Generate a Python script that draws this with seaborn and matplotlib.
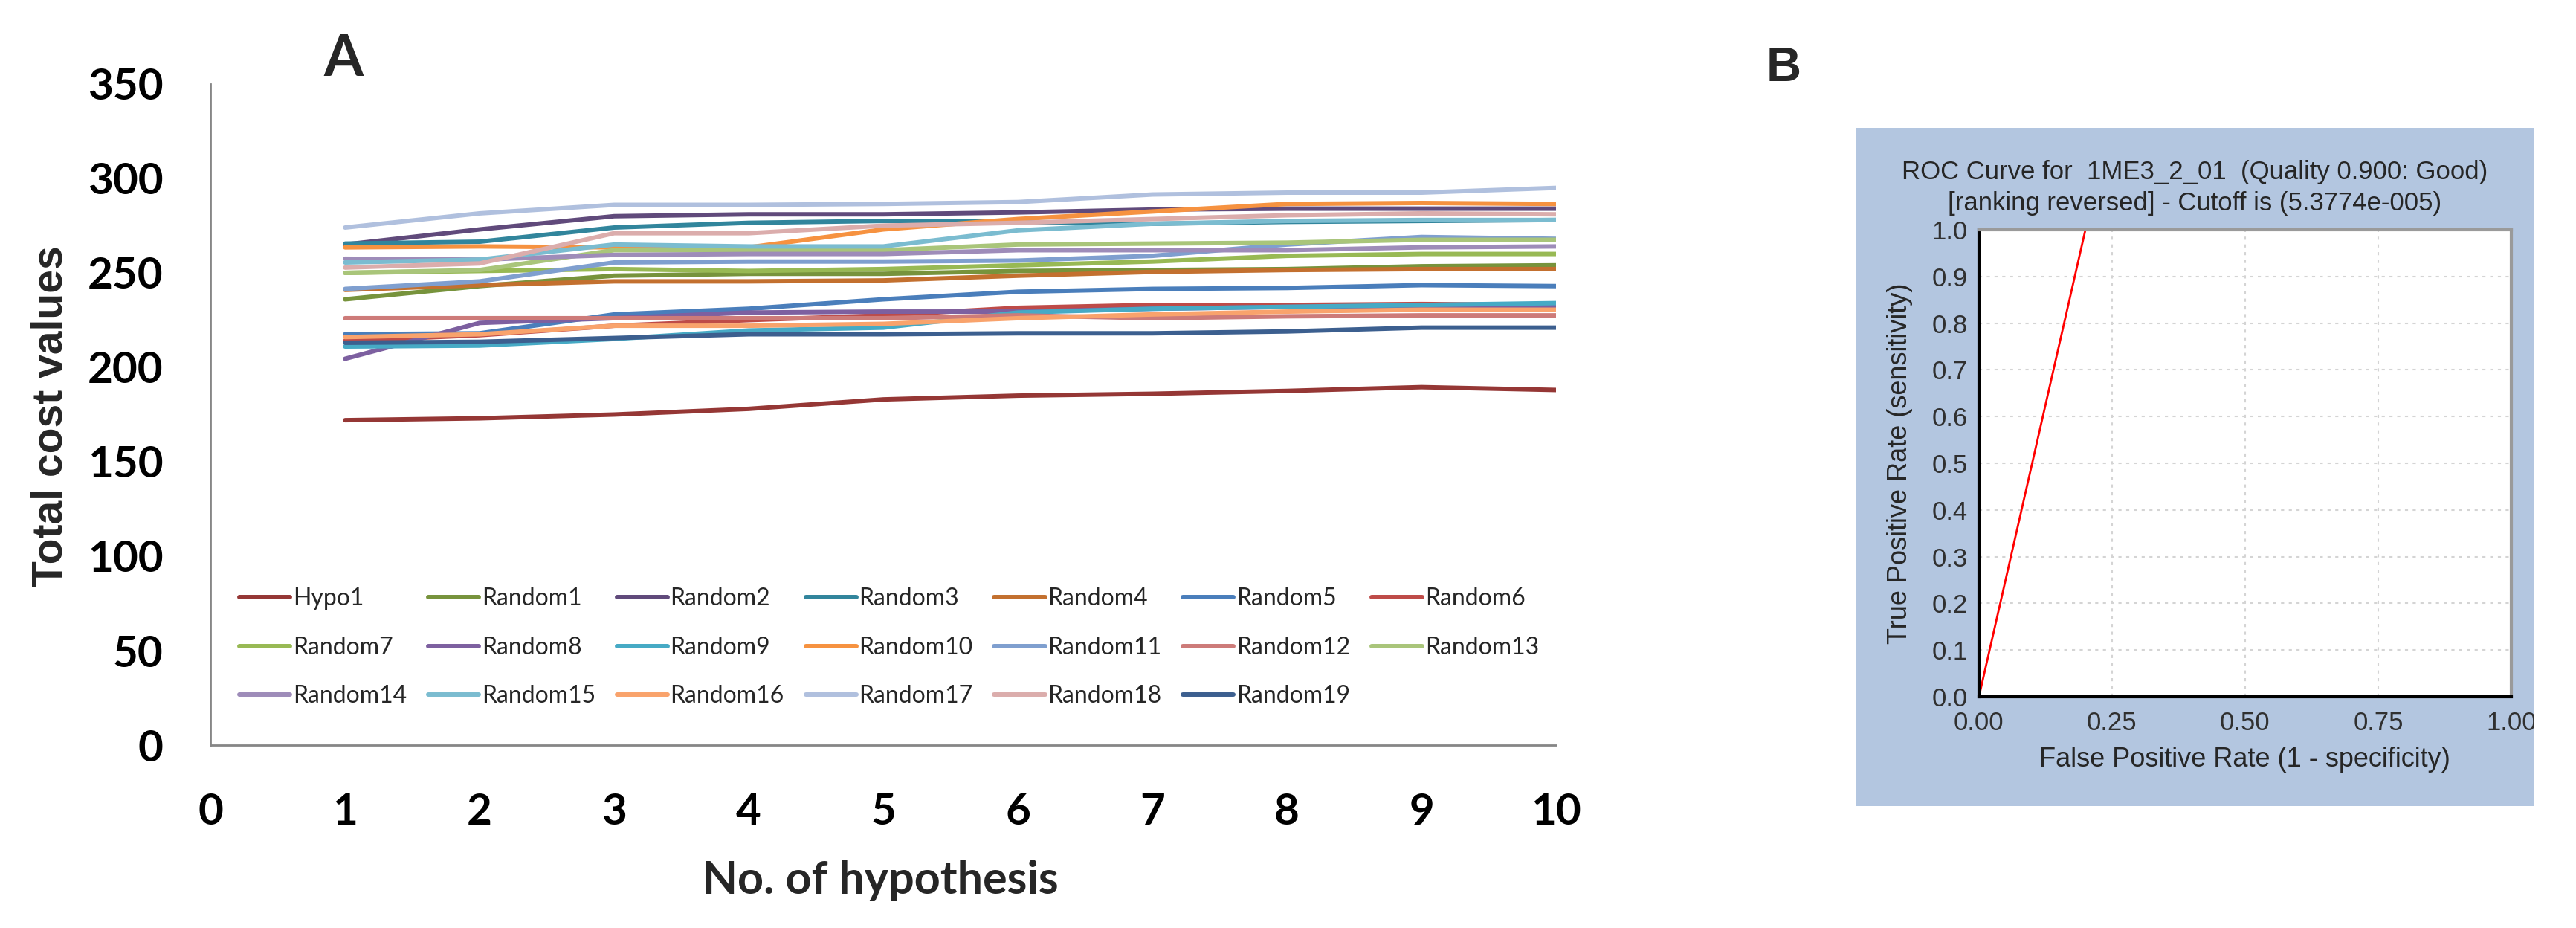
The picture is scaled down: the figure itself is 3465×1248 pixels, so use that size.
import numpy as np
import pandas as pd
import matplotlib
matplotlib.use("Agg")
import matplotlib.pyplot as plt
import seaborn as sns

# panel A data: total cost of the 10 hypotheses for each run
hypotheses = [1, 2, 3, 4, 5, 6, 7, 8, 9, 10]
series_names = ["Hypo1"] + ["Random%d" % i for i in range(1, 20)]

hypo1 = [172, 173, 175, 178, 183, 185, 186, 187.5, 189.5, 188]
random1 = [236, 243, 248.5, 249.5, 249.5, 251, 251.5, 252, 253.5, 254]
random2 = [265, 273, 280, 281, 281, 282, 283.5, 284, 284, 284]
random3 = [265.5, 266.5, 274, 276.5, 277.5, 277, 276, 277, 277.5, 278]
random4 = [241, 243.5, 245.5, 245.5, 246, 248.5, 250.5, 251.5, 252, 252]
random5 = [217.5, 218, 228, 231, 236, 240, 241.5, 242, 243.5, 243]
random6 = [214, 217, 222, 225, 227.5, 231.5, 233, 233, 233.5, 233]
random7 = [250, 251, 252, 251, 252, 254, 256, 259, 260, 260]
random8 = [204.5, 223.5, 226, 229, 229.5, 229.5, 231, 232, 232, 232]
random9 = [211, 211.5, 215, 219.5, 221, 229, 231, 232, 233, 234]
random10 = [263.5, 264, 263.5, 263.5, 273, 278.5, 282.5, 286.5, 287, 286.5]
random11 = [241.5, 245.5, 255.5, 256, 256, 256.5, 259, 265, 269, 268]
random12 = [226, 226, 226, 226, 226, 227.5, 226, 227, 227.5, 227.5]
random13 = [250, 251.5, 262, 262, 262, 265, 265.5, 266, 267.5, 267.5]
random14 = [257.5, 257, 259.5, 260, 260, 262, 262, 262, 263.5, 264]
random15 = [255.5, 257, 265, 264, 264, 272.5, 276, 277.5, 278, 278]
random16 = [216, 217.5, 222, 222, 223, 226, 228, 229.5, 230.5, 230.5]
random17 = [274, 281.5, 286, 286, 286.5, 287.5, 291.5, 292.5, 292.5, 295]
random18 = [252.8, 255, 271, 271, 275, 276.5, 278.5, 280.5, 281.5, 281]
random19 = [213, 213.5, 215.5, 217.5, 217.5, 218, 218, 219, 221, 221]

series_values = [hypo1, random1, random2, random3, random4, random5, random6,
                 random7, random8, random9, random10, random11, random12,
                 random13, random14, random15, random16, random17, random18,
                 random19]

line_colors = ["#953735", "#77933C", "#604A7B", "#31859C", "#C3702F",
               "#4A7EBB", "#BE4B48", "#98B954", "#7D60A0", "#46AAC5",
               "#F69240", "#7F9FCF", "#CD7B79", "#A9C57A", "#9E8CB9",
               "#7BBCD0", "#F9A36C", "#B0C0DE", "#DBADAC", "#3C5F8F"]

# panel B data: ROC curve
fpr = [0.0, 0.2, 1.0]
tpr = [0.0, 1.0, 1.0]

rows = []
for name, vals in zip(series_names, series_values):
    for h, v in zip(hypotheses, vals):
        rows.append((name, h, v))
df = pd.DataFrame(rows, columns=["series", "hypothesis", "cost"])

sns.set_style("white")
plt.rcParams["font.family"] = ["Lato", "DejaVu Sans"]

fig = plt.figure(figsize=(34.66, 12.48), dpi=100)

# ---- panel A ----
ax = fig.add_axes([0.0817, 0.1971, 0.5222, 0.7124])
sns.lineplot(data=df, x="hypothesis", y="cost", hue="series",
             hue_order=series_names,
             palette=dict(zip(series_names, line_colors)),
             linewidth=4.3, estimator=None, ax=ax)

ax.set_xlim(0, 10)
ax.set_ylim(0, 350)
ax.set_xticks(range(0, 11))
ax.set_yticks(range(0, 351, 50))
for side in ["top", "right"]:
    ax.spines[side].set_visible(False)
for side in ["left", "bottom"]:
    ax.spines[side].set_color("#868686")
    ax.spines[side].set_linewidth(2)
ax.tick_params(direction="out", length=16, width=2, color="#868686",
               labelsize=42, pad=30, labelcolor="black")
for lab in ax.get_xticklabels() + ax.get_yticklabels():
    lab.set_fontweight("bold")

ax.set_xlabel("No. of hypothesis", fontsize=44, fontweight="bold")
ax.xaxis.set_label_coords(0.498, -0.225)
ax.xaxis.label.set_va("baseline")
ax.set_ylabel("Total cost values", fontsize=41, fontweight="bold",
              family=["Liberation Sans", "DejaVu Sans"])
ax.yaxis.set_label_coords(-0.1188, 0.498)
ax.yaxis.label.set_va("center")

# legend in row-major order like the original (7 columns, 3 rows)
handles, labels = ax.get_legend_handles_labels()
n = len(handles)
order = [r * 7 + c for c in range(7) for r in range(3) if r * 7 + c < n]
leg = ax.legend([handles[i] for i in order], [labels[i] for i in order],
                ncol=7, loc="upper left", bbox_to_anchor=(0.0215, 0.238),
                frameon=False, fontsize=23, handlelength=2.13,
                handletextpad=0.12, columnspacing=0.9, labelspacing=1.11,
                borderpad=0, borderaxespad=0)
for line in leg.get_lines():
    line.set_linewidth(4.3)

fig.text(462 / 3466, 1 - 80 / 1248, "A", fontsize=55, fontweight="bold",
         ha="center", va="center")

# ---- panel B ----
fig.text(2399 / 3466, 1 - 92 / 1248, "B", fontsize=47, fontweight="bold",
         ha="center", va="center", family=["Liberation Sans", "DejaVu Sans"])

bg = fig.add_axes([0.7201, 0.1314, 0.2631, 0.7308])
bg.set_facecolor("#B3C6E0")
bg.set_xticks([])
bg.set_yticks([])
for s in bg.spines.values():
    s.set_visible(False)
bfont = ["Liberation Sans", "DejaVu Sans"]
bg.text(0.5, 0.935, "ROC Curve for  1ME3_2_01  (Quality 0.900: Good)",
        ha="center", va="center", fontsize=25, color="#262626", family=bfont)
bg.text(0.5, 0.889, "[ranking reversed] - Cutoff is (5.3774e-005)",
        ha="center", va="center", fontsize=25, color="#262626", family=bfont)

roc = fig.add_axes([0.7680, 0.2492, 0.2066, 0.5032])
roc.set_facecolor("white")
sns.lineplot(x=fpr, y=tpr, color="#FF0000", linewidth=2, estimator=None,
             sort=False, ax=roc)
roc.set_xlim(0, 1)
roc.set_ylim(0, 1)
xt = [0, 0.25, 0.5, 0.75, 1.0]
yt = [i / 10 for i in range(11)]
roc.set_xticks(xt)
roc.set_xticklabels(["%.2f" % v for v in xt])
roc.set_yticks(yt)
roc.set_yticklabels(["%.1f" % v for v in yt])
roc.grid(True, color="#D4D4D4", linestyle=(0, (2, 3)), linewidth=1.5)
for side in ["left", "bottom"]:
    roc.spines[side].set_color("black")
    roc.spines[side].set_linewidth(3)
for side in ["top", "right"]:
    roc.spines[side].set_color("#9A9A9A")
    roc.spines[side].set_linewidth(3)
roc.tick_params(direction="out", length=5, width=1.5, color="black",
                labelsize=25, labelcolor="#303030")
roc.tick_params(axis="x", pad=9)
roc.tick_params(axis="y", pad=6)
for lab in roc.get_xticklabels() + roc.get_yticklabels():
    lab.set_family(bfont)
    lab.set_clip_box(bg.bbox)
    lab.set_clip_on(True)
roc.set_xlabel("False Positive Rate (1 - specificity)", fontsize=26,
               color="#262626", family=bfont)
roc.xaxis.set_label_coords(0.5, -0.135)
roc.xaxis.label.set_va("center")
roc.set_ylabel("True Positive Rate (sensitivity)", fontsize=26,
               color="#262626", family=bfont)
roc.yaxis.set_label_coords(-0.148, 0.5)
roc.yaxis.label.set_va("center")

fig.savefig("out.png", dpi=100)
